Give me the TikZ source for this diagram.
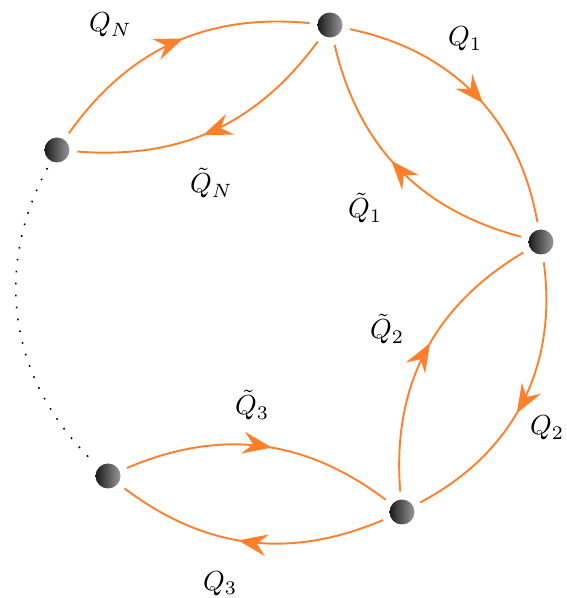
\documentclass[tikz,border=0pt]{standalone}
\usetikzlibrary{arrows.meta,decorations.markings}
\definecolor{qorange}{RGB}{255,127,42}
\newcommand{\biglbl}[1]{\scalebox{2.75}{$#1$}}
\begin{document}
\begin{tikzpicture}[x=1pt,y=1pt,
  ball/.style={circle,minimum size=25pt,inner sep=0pt,outer sep=8pt,left color=black!90,right color=black!40},
  flow/.style={draw=qorange,line width=1.9pt,postaction={decorate},
    decoration={markings,mark=at position 0.54 with {\arrow[qorange]{Stealth[length=29pt,width=22pt,inset=10pt]}}}},
  lbl/.style={anchor=base west,inner sep=0pt},
  dots/.style={line width=1.6pt,dash pattern=on 1.6pt off 10.4pt}
]
\useasboundingbox (0,0) rectangle (567,598);
\node[ball] (A) at (330,573) {};
\node[ball] (B) at (541,356) {};
\node[ball] (C) at (402,86) {};
\node[ball] (D) at (108,122) {};
\node[ball] (E) at (57,448) {};

\draw[flow] (A) to[bend left=34] (B);
\draw[flow] (B) to[bend left=31] (A);
\draw[flow] (B) to[bend left=35] (C);
\draw[flow] (C) to[bend left=32] (B);
\draw[flow] (C) to[bend left=30] (D);
\draw[flow] (D) to[bend left=30] (C);
\draw[flow] (E) to[bend left=30] (A);
\draw[flow] (A) to[bend left=29] (E);
\draw[dots] (E) to[bend right=37] (D);

\node[lbl] (lQN) at (89,566) {\biglbl{Q_N}};
\node[lbl] (ltQN) at (190,405) {\biglbl{\tilde{Q}_N}};
\node[lbl] (lQ1) at (448,552) {\biglbl{Q_1}};
\node[lbl] (ltQ1) at (348,380) {\biglbl{\tilde{Q}_1}};
\node[lbl] (lQ2) at (530,163) {\biglbl{Q_2}};
\node[lbl] (ltQ2) at (370,259) {\biglbl{\tilde{Q}_2}};
\node[lbl] (lQ3) at (203,8) {\biglbl{Q_3}};
\node[lbl] (ltQ3) at (235,183) {\biglbl{\tilde{Q}_3}};
\end{tikzpicture}
\end{document}
